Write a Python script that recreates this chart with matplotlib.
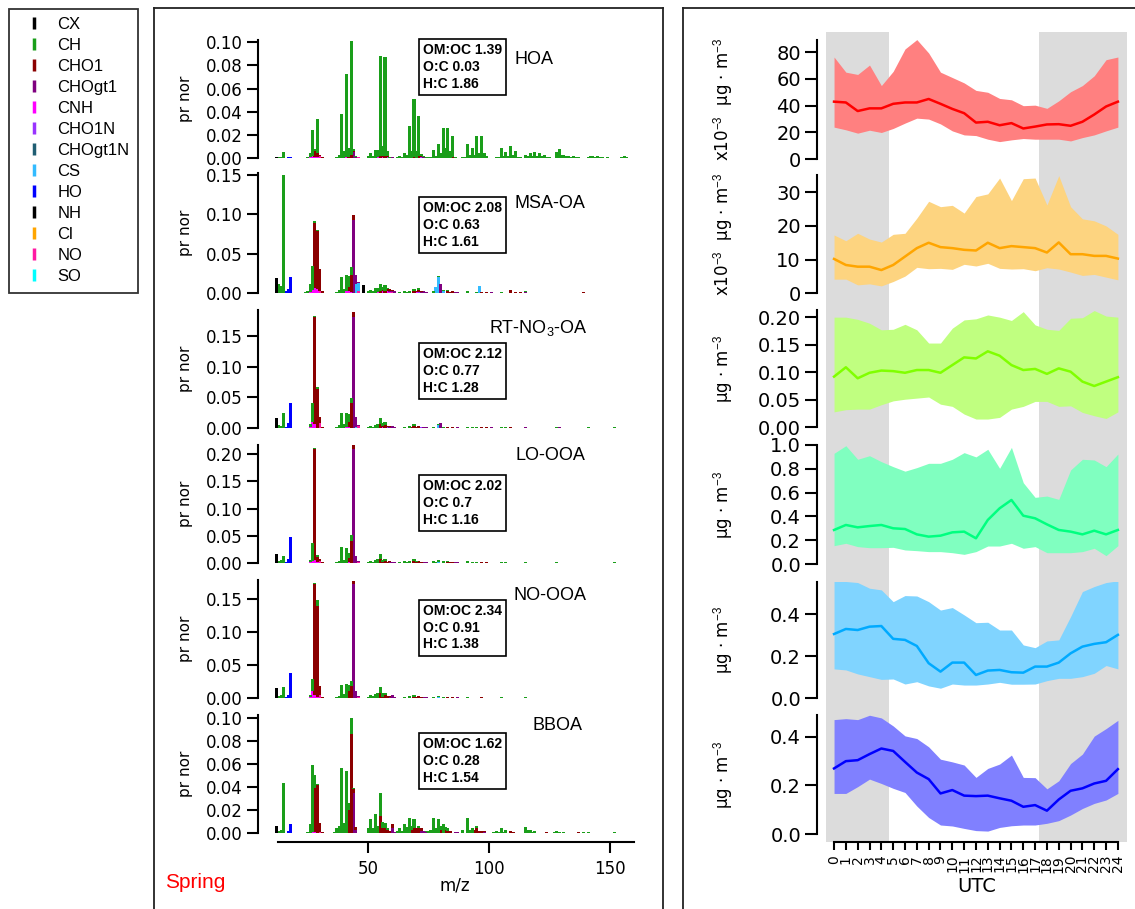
import numpy as np
import matplotlib.pyplot as plt
from matplotlib.lines import Line2D
from matplotlib.ticker import FormatStrFormatter

plt.rcParams['font.family'] = ['DejaVu Sans']
plt.rcParams['mathtext.fontset'] = 'custom'
plt.rcParams['mathtext.rm'] = 'Liberation Sans'
plt.rcParams['mathtext.it'] = 'Liberation Sans'

# ---------------- legend families ----------------
families = ['CX', 'CH', 'CHO1', 'CHOgt1', 'CNH', 'CHO1N', 'CHOgt1N', 'CS', 'HO', 'NH', 'Cl', 'NO', 'SO']
fam_colors = ['#000000', '#1a9e1a', '#8b0000', '#800080', '#ff00ff', '#9933ff', '#205e73',
              '#33bbff', '#0000ff', '#000000', '#ffa500', '#ff1aa3', '#00ffff']

# ---------------- mass spectra (m/z: value) ----------------
hoa_cx = {12: 0.001}
hoa_ch = {13: 0.001, 14: 0.001, 15: 0.005, 25: 0.001, 26: 0.003, 27: 0.022, 28: 0.002, 29: 0.030,
          37: 0.001, 38: 0.003, 39: 0.038, 40: 0.006, 41: 0.072, 42: 0.008, 43: 0.098, 44: 0.002,
          45: 0.001, 50: 0.002, 51: 0.004, 52: 0.002, 53: 0.007, 54: 0.006, 55: 0.086, 56: 0.008,
          57: 0.085, 58: 0.004, 59: 0.001, 62: 0.001, 63: 0.002, 64: 0.001, 65: 0.004, 66: 0.003,
          67: 0.028, 68: 0.006, 69: 0.050, 70: 0.006, 71: 0.034, 72: 0.002, 73: 0.001, 74: 0.001,
          75: 0.001, 76: 0.001, 77: 0.007, 78: 0.002, 79: 0.012, 80: 0.004, 81: 0.026, 82: 0.009,
          83: 0.026, 84: 0.006, 85: 0.018, 86: 0.001, 89: 0.001, 90: 0.001, 91: 0.012, 92: 0.003,
          93: 0.009, 94: 0.003, 95: 0.019, 96: 0.004, 97: 0.019, 98: 0.004, 99: 0.002, 103: 0.001,
          104: 0.001, 105: 0.009, 106: 0.002, 107: 0.005, 108: 0.002, 109: 0.010, 110: 0.003,
          111: 0.006, 112: 0.001, 113: 0.001, 115: 0.003, 116: 0.002, 117: 0.004, 118: 0.002,
          119: 0.005, 120: 0.002, 121: 0.004, 122: 0.002, 123: 0.003, 124: 0.001, 125: 0.001,
          128: 0.005, 129: 0.008, 130: 0.003, 131: 0.003, 132: 0.002, 133: 0.002, 134: 0.001,
          135: 0.002, 136: 0.001, 137: 0.001, 141: 0.001, 142: 0.002, 143: 0.002, 144: 0.001,
          145: 0.002, 146: 0.001, 147: 0.001, 149: 0.001, 155: 0.001, 156: 0.002, 157: 0.001}
hoa_cho1 = {28: 0.005, 29: 0.003, 30: 0.001, 31: 0.001, 42: 0.001, 43: 0.003, 44: 0.001, 55: 0.002,
            56: 0.001, 57: 0.002, 58: 0.001, 69: 0.001, 71: 0.002, 72: 0.001, 85: 0.001}
hoa_chogt1 = {44: 0.005, 45: 0.001, 60: 0.001, 73: 0.001}
hoa_cnh = {26: 0.001, 27: 0.002, 28: 0.001, 29: 0.001, 41: 0.001, 54: 0.001, 56: 0.001}
hoa_cho1n = {58: 0.001, 72: 0.0005}
hoa_ho = {17: 0.0005, 18: 0.001}
hoa_no = {30: 0.002, 46: 0.0005}

msa_cx = {12: 0.019, 48: 0.010}
msa_ch = {13: 0.011, 14: 0.009, 15: 0.150, 24: 0.001, 25: 0.002, 26: 0.010, 27: 0.030, 28: 0.002,
          29: 0.002, 37: 0.001, 38: 0.004, 39: 0.020, 40: 0.005, 41: 0.021, 42: 0.014, 43: 0.010,
          50: 0.002, 51: 0.004, 52: 0.002, 53: 0.006, 54: 0.005, 55: 0.008, 56: 0.004, 57: 0.007,
          58: 0.001, 63: 0.001, 65: 0.002, 66: 0.001, 67: 0.003, 69: 0.003, 71: 0.002, 77: 0.002,
          79: 0.001, 81: 0.002, 83: 0.002, 91: 0.002, 95: 0.001, 105: 0.001, 115: 0.001}
msa_cho1 = {28: 0.083, 29: 0.073, 30: 0.027, 31: 0.002, 42: 0.005, 43: 0.022, 44: 0.006, 55: 0.003,
            56: 0.002, 57: 0.003, 58: 0.002, 59: 0.002, 60: 0.001, 69: 0.002, 70: 0.002, 71: 0.003,
            72: 0.002, 73: 0.001, 83: 0.002, 84: 0.001, 85: 0.002, 97: 0.001, 99: 0.001, 109: 0.004,
            111: 0.001, 113: 0.001, 139: 0.001}
msa_chogt1 = {44: 0.093, 45: 0.011, 46: 0.001, 58: 0.001, 59: 0.002, 60: 0.002, 61: 0.002,
              72: 0.001, 73: 0.002, 74: 0.001, 80: 0.012, 86: 0.001, 87: 0.001, 101: 0.001, 115: 0.001}
msa_cnh = {26: 0.001, 27: 0.004, 28: 0.006, 29: 0.005, 41: 0.002, 42: 0.002, 43: 0.001, 54: 0.001,
           56: 0.002, 58: 0.002, 59: 0.001, 70: 0.001}
msa_cho1n = {71: 0.001}
msa_cs = {45: 0.012, 46: 0.010, 78: 0.008, 79: 0.020, 81: 0.002, 96: 0.009}
msa_ho = {16: 0.002, 17: 0.005, 18: 0.020}
msa_no = {30: 0.003, 46: 0.003, 60: 0.001}

rt_cx = {12: 0.017}
rt_ch = {13: 0.005, 14: 0.003, 15: 0.024, 26: 0.005, 27: 0.030, 28: 0.003, 29: 0.003, 37: 0.002,
         38: 0.005, 39: 0.025, 40: 0.006, 41: 0.024, 42: 0.012, 43: 0.009, 50: 0.002, 51: 0.004,
         52: 0.002, 53: 0.005, 54: 0.006, 55: 0.009, 56: 0.004, 57: 0.005, 65: 0.002, 67: 0.003,
         69: 0.003, 77: 0.002, 79: 0.002, 81: 0.002, 91: 0.002, 93: 0.001, 95: 0.001, 105: 0.001,
         107: 0.001, 115: 0.001, 128: 0.001, 141: 0.001, 152: 0.001}
rt_cho1 = {28: 0.174, 29: 0.064, 30: 0.010, 31: 0.002, 42: 0.008, 43: 0.040, 44: 0.009, 55: 0.007,
           56: 0.003, 57: 0.005, 58: 0.002, 59: 0.002, 68: 0.001, 69: 0.003, 70: 0.002, 71: 0.003,
           72: 0.001, 83: 0.002, 85: 0.002, 97: 0.001, 99: 0.001, 109: 0.001}
rt_chogt1 = {44: 0.180, 45: 0.016, 46: 0.001, 58: 0.001, 59: 0.002, 60: 0.003, 61: 0.001, 73: 0.002,
             74: 0.001, 80: 0.008, 87: 0.001, 101: 0.001, 115: 0.001, 129: 0.001}
rt_cnh = {26: 0.001, 27: 0.010, 28: 0.006, 41: 0.001, 42: 0.002, 56: 0.001}
rt_cho1n = {58: 0.001, 72: 0.001}
rt_cs = {45: 0.002, 79: 0.005}
rt_ho = {16: 0.002, 17: 0.008, 18: 0.040}
rt_no = {30: 0.008, 46: 0.004}

lo_cx = {12: 0.016}
lo_ch = {13: 0.003, 14: 0.005, 15: 0.013, 26: 0.005, 27: 0.034, 28: 0.003, 29: 0.003, 37: 0.002,
         38: 0.004, 39: 0.030, 40: 0.006, 41: 0.027, 42: 0.010, 43: 0.012, 50: 0.002, 51: 0.004,
         52: 0.002, 53: 0.006, 54: 0.007, 55: 0.010, 56: 0.004, 57: 0.004, 63: 0.001, 65: 0.003,
         66: 0.002, 67: 0.004, 69: 0.004, 70: 0.002, 77: 0.004, 78: 0.002, 79: 0.004, 81: 0.003,
         83: 0.002, 91: 0.003, 93: 0.001, 95: 0.002, 105: 0.002, 107: 0.001, 115: 0.002, 128: 0.001,
         152: 0.001}
lo_cho1 = {28: 0.203, 29: 0.009, 30: 0.005, 31: 0.001, 42: 0.008, 43: 0.040, 44: 0.007, 55: 0.007,
           56: 0.002, 57: 0.004, 58: 0.002, 59: 0.002, 69: 0.003, 70: 0.002, 71: 0.003, 72: 0.001,
           83: 0.002, 84: 0.001, 85: 0.002, 97: 0.001, 99: 0.001}
lo_chogt1 = {44: 0.210, 45: 0.012, 46: 0.001, 59: 0.001, 60: 0.002, 61: 0.001, 73: 0.001, 74: 0.001,
             86: 0.001, 87: 0.001}
lo_cnh = {26: 0.001, 27: 0.003, 28: 0.006, 29: 0.002, 42: 0.001}
lo_cs = {79: 0.002}
lo_ho = {16: 0.002, 17: 0.008, 18: 0.047}
lo_no = {30: 0.003, 46: 0.002}

no_cx = {12: 0.015}
no_ch = {13: 0.003, 14: 0.004, 15: 0.017, 26: 0.004, 27: 0.018, 28: 0.002, 29: 0.009, 37: 0.002,
         38: 0.003, 39: 0.020, 40: 0.006, 41: 0.021, 42: 0.010, 43: 0.008, 50: 0.002, 51: 0.004,
         52: 0.003, 53: 0.006, 54: 0.007, 55: 0.010, 56: 0.005, 57: 0.003, 65: 0.002, 67: 0.003,
         69: 0.003, 77: 0.002, 79: 0.002, 81: 0.002, 91: 0.002, 105: 0.001, 115: 0.001}
no_cho1 = {28: 0.168, 29: 0.138, 30: 0.014, 31: 0.001, 42: 0.010, 43: 0.018, 44: 0.005, 55: 0.007,
           56: 0.002, 57: 0.004, 58: 0.003, 59: 0.002, 69: 0.002, 70: 0.002, 71: 0.003, 72: 0.001,
           83: 0.001, 85: 0.001, 97: 0.001}
no_chogt1 = {44: 0.172, 45: 0.010, 46: 0.001, 59: 0.001, 60: 0.005, 61: 0.001, 73: 0.002, 74: 0.001,
             87: 0.001}
no_cnh = {26: 0.001, 27: 0.011, 28: 0.004, 29: 0.001}
no_cs = {79: 0.001}
no_ho = {16: 0.001, 17: 0.005, 18: 0.038}
no_no = {30: 0.004, 46: 0.002}

bb_cx = {12: 0.006}
bb_ch = {13: 0.002, 14: 0.003, 15: 0.044, 25: 0.001, 26: 0.008, 27: 0.058, 28: 0.012, 29: 0.001,
         36: 0.001, 37: 0.004, 38: 0.006, 39: 0.057, 40: 0.009, 41: 0.054, 42: 0.006, 43: 0.014,
         44: 0.001, 50: 0.004, 51: 0.012, 52: 0.004, 53: 0.017, 54: 0.006, 55: 0.020, 56: 0.006,
         57: 0.005, 58: 0.001, 62: 0.002, 63: 0.004, 64: 0.002, 65: 0.008, 66: 0.005, 67: 0.013,
         68: 0.003, 69: 0.008, 71: 0.002, 74: 0.001, 75: 0.002, 76: 0.003, 77: 0.013, 78: 0.004,
         79: 0.012, 80: 0.003, 81: 0.008, 82: 0.002, 83: 0.002, 89: 0.003, 91: 0.013, 92: 0.003,
         93: 0.004, 95: 0.002, 102: 0.001, 103: 0.002, 104: 0.001, 105: 0.004, 106: 0.001,
         107: 0.003, 115: 0.005, 116: 0.003, 117: 0.003, 118: 0.001, 119: 0.002, 127: 0.001,
         128: 0.002, 129: 0.001, 131: 0.001, 139: 0.001, 141: 0.001, 152: 0.001}
bb_cho1 = {28: 0.038, 29: 0.042, 30: 0.008, 31: 0.001, 42: 0.020, 43: 0.086, 44: 0.003, 45: 0.002,
           55: 0.015, 56: 0.004, 57: 0.004, 58: 0.003, 59: 0.002, 60: 0.004, 68: 0.003, 69: 0.004,
           70: 0.004, 71: 0.004, 72: 0.002, 80: 0.003, 82: 0.003, 83: 0.002, 84: 0.002, 94: 0.003,
           95: 0.004, 96: 0.002, 97: 0.002, 98: 0.001, 109: 0.002, 110: 0.001, 124: 0.001, 137: 0.001}
bb_chogt1 = {44: 0.035, 45: 0.003, 60: 0.004, 61: 0.001, 72: 0.002, 73: 0.002, 74: 0.001, 86: 0.001,
             87: 0.001, 98: 0.001}
bb_cnh = {27: 0.001, 28: 0.001}
bb_ho = {17: 0.002, 18: 0.008}
bb_no = {30: 0.001}

factor_names = ['HOA', 'MSA-OA', 'RT-NO$_3$-OA', 'LO-OOA', 'NO-OOA', 'BBOA']
ratio_text = ['OM:OC 1.39\nO:C 0.03\nH:C 1.86',
              'OM:OC 2.08\nO:C 0.63\nH:C 1.61',
              'OM:OC 2.12\nO:C 0.77\nH:C 1.28',
              'OM:OC 2.02\nO:C 0.7\nH:C 1.16',
              'OM:OC 2.34\nO:C 0.91\nH:C 1.38',
              'OM:OC 1.62\nO:C 0.28\nH:C 1.54']
spec_ticks = [[0, 0.02, 0.04, 0.06, 0.08, 0.10], [0, 0.05, 0.10, 0.15], [0, 0.05, 0.10, 0.15],
              [0, 0.05, 0.10, 0.15, 0.20], [0, 0.05, 0.10, 0.15], [0, 0.02, 0.04, 0.06, 0.08, 0.10]]
spec_top = [0.102, 0.152, 0.192, 0.217, 0.178, 0.103]

spectra = [
    {'CX': hoa_cx, 'CH': hoa_ch, 'CHO1': hoa_cho1, 'CHOgt1': hoa_chogt1, 'CNH': hoa_cnh,
     'CHO1N': hoa_cho1n, 'HO': hoa_ho, 'NO': hoa_no},
    {'CX': msa_cx, 'CH': msa_ch, 'CHO1': msa_cho1, 'CHOgt1': msa_chogt1, 'CNH': msa_cnh,
     'CHO1N': msa_cho1n, 'CS': msa_cs, 'HO': msa_ho, 'NO': msa_no},
    {'CX': rt_cx, 'CH': rt_ch, 'CHO1': rt_cho1, 'CHOgt1': rt_chogt1, 'CNH': rt_cnh,
     'CHO1N': rt_cho1n, 'CS': rt_cs, 'HO': rt_ho, 'NO': rt_no},
    {'CX': lo_cx, 'CH': lo_ch, 'CHO1': lo_cho1, 'CHOgt1': lo_chogt1, 'CNH': lo_cnh,
     'CS': lo_cs, 'HO': lo_ho, 'NO': lo_no},
    {'CX': no_cx, 'CH': no_ch, 'CHO1': no_cho1, 'CHOgt1': no_chogt1, 'CNH': no_cnh,
     'CS': no_cs, 'HO': no_ho, 'NO': no_no},
    {'CX': bb_cx, 'CH': bb_ch, 'CHO1': bb_cho1, 'CHOgt1': bb_chogt1, 'CNH': bb_cnh,
     'HO': bb_ho, 'NO': bb_no},
]

# ---------------- diurnal cycles (UTC hour 0..24) ----------------
hours = list(range(25))
hoa_med = [43, 42.4, 36, 38, 38, 41.4, 42.4, 42.4, 45, 41.4, 37.6, 34.4, 27.4, 28, 25.4, 27, 23, 24.4,
           26, 26.2, 25, 28, 33.4, 39.4, 43]
hoa_hi = [76.3, 65, 63.3, 70.3, 55, 65.6, 82.3, 89.3, 79.3, 65, 61, 57, 51.4, 50, 45.4, 44.4, 40, 40.4,
          38, 43.6, 50.4, 55, 62.3, 74.3, 76.3]
hoa_lo = [24, 22, 19.5, 21.7, 20, 23, 27, 30.7, 30, 26.4, 21.2, 18.2, 17.7, 15, 13.2, 14.5, 15.5, 15,
          15, 15, 13.7, 16.2, 18.2, 21.2, 24]
msa_med = [10.2, 8.4, 7.9, 7.9, 6.9, 8.4, 10.9, 13.4, 15, 13.7, 13.4, 12.9, 12.7, 15, 13.4, 14, 13.7,
           13.4, 12.1, 15.1, 11.6, 11.6, 11.1, 11.1, 10.3]
msa_hi = [17.3, 15.6, 17.8, 16.1, 15.2, 17.5, 17.8, 22.3, 27.3, 25.7, 26.1, 23.8, 28.7, 29.5, 34.2, 27.5,
          34, 34.2, 26.2, 34.9, 25.7, 22.1, 21.5, 20, 17.5]
msa_lo = [4.2, 4.2, 2.5, 2.8, 2.2, 3.5, 5.1, 7.7, 7.3, 7.4, 7.1, 8.6, 8.1, 8.9, 7.4, 7.2, 7.3, 6.7, 7.6,
          7.2, 6.3, 5.3, 5.6, 4.8, 4]
rt_med = [0.092, 0.109, 0.089, 0.099, 0.103, 0.102, 0.099, 0.104, 0.104, 0.099, 0.113, 0.127, 0.125,
          0.138, 0.130, 0.113, 0.104, 0.106, 0.097, 0.107, 0.101, 0.083, 0.075, 0.083, 0.091]
rt_hi = [0.200, 0.200, 0.196, 0.189, 0.177, 0.178, 0.187, 0.177, 0.153, 0.153, 0.180, 0.195, 0.197,
         0.204, 0.200, 0.194, 0.210, 0.186, 0.178, 0.176, 0.198, 0.199, 0.212, 0.202, 0.200]
rt_lo = [0.028, 0.032, 0.033, 0.033, 0.041, 0.048, 0.051, 0.053, 0.055, 0.042, 0.038, 0.024, 0.015,
         0.015, 0.018, 0.033, 0.038, 0.047, 0.047, 0.038, 0.039, 0.027, 0.021, 0.016, 0.028]
lo_med = [0.286, 0.328, 0.308, 0.319, 0.328, 0.300, 0.294, 0.249, 0.230, 0.238, 0.266, 0.272, 0.216,
          0.370, 0.468, 0.538, 0.406, 0.384, 0.333, 0.286, 0.272, 0.249, 0.280, 0.249, 0.286]
lo_hi = [0.93, 0.994, 0.88, 0.91, 0.86, 0.818, 0.78, 0.81, 0.846, 0.846, 0.88, 0.936, 0.90, 0.964,
         0.804, 0.98, 0.683, 0.56, 0.571, 0.543, 0.79, 0.88, 0.874, 0.818, 0.924]
lo_lo = [0.154, 0.174, 0.146, 0.137, 0.137, 0.14, 0.118, 0.112, 0.104, 0.104, 0.095, 0.081, 0.104,
         0.151, 0.151, 0.174, 0.132, 0.146, 0.095, 0.095, 0.095, 0.104, 0.132, 0.07, 0.154]
noo_med = [0.306, 0.33, 0.325, 0.341, 0.344, 0.283, 0.278, 0.249, 0.167, 0.127, 0.17, 0.17, 0.111,
           0.132, 0.135, 0.124, 0.122, 0.151, 0.151, 0.17, 0.214, 0.246, 0.259, 0.267, 0.302]
noo_hi = [0.559, 0.556, 0.551, 0.524, 0.516, 0.46, 0.489, 0.487, 0.46, 0.42, 0.432, 0.397, 0.36, 0.362,
          0.325, 0.325, 0.254, 0.241, 0.273, 0.278, 0.389, 0.508, 0.532, 0.551, 0.559]
noo_lo = [0.14, 0.135, 0.116, 0.103, 0.09, 0.092, 0.068, 0.079, 0.059, 0.048, 0.068, 0.063, 0.063,
          0.068, 0.076, 0.067, 0.067, 0.068, 0.084, 0.095, 0.095, 0.103, 0.119, 0.156, 0.14]
bb_med = [0.27, 0.30, 0.304, 0.329, 0.352, 0.342, 0.297, 0.253, 0.226, 0.167, 0.181, 0.158, 0.156,
          0.158, 0.147, 0.137, 0.112, 0.119, 0.096, 0.142, 0.178, 0.188, 0.208, 0.219, 0.267]
bb_hi = [0.471, 0.475, 0.471, 0.489, 0.478, 0.445, 0.404, 0.393, 0.359, 0.308, 0.297, 0.284, 0.233,
         0.27, 0.288, 0.325, 0.233, 0.232, 0.186, 0.219, 0.29, 0.329, 0.403, 0.434, 0.468]
bb_lo = [0.167, 0.167, 0.195, 0.226, 0.208, 0.188, 0.171, 0.115, 0.068, 0.037, 0.033, 0.023, 0.014,
         0.012, 0.027, 0.034, 0.037, 0.037, 0.044, 0.055, 0.078, 0.105, 0.126, 0.14, 0.167]

diurnal = [(hoa_med, hoa_lo, hoa_hi), (msa_med, msa_lo, msa_hi), (rt_med, rt_lo, rt_hi),
           (lo_med, lo_lo, lo_hi), (noo_med, noo_lo, noo_hi), (bb_med, bb_lo, bb_hi)]
line_colors = ['#ff0000', '#ffa500', '#80ff00', '#00ff80', '#00aaff', '#0000ff']
fill_colors = ['#ff8080', '#fdd480', '#c0ff80', '#80ffc0', '#80d4ff', '#8080ff']
diu_ticks = [[0, 20, 40, 60, 80], [0, 10, 20, 30], [0, 0.05, 0.10, 0.15, 0.20],
             [0, 0.2, 0.4, 0.6, 0.8, 1.0], [0, 0.2, 0.4], [0, 0.2, 0.4]]
diu_fmt = ['%d', '%d', '%.2f', '%.1f', '%.1f', '%.1f']
diu_top = [89, 35.1, 0.213, 1.0, 0.555, 0.49]
diu_units = ['x10$^{-3}$  µg · m$^{-3}$', 'x10$^{-3}$  µg · m$^{-3}$', 'µg · m$^{-3}$',
             'µg · m$^{-3}$', 'µg · m$^{-3}$', 'µg · m$^{-3}$']
night_spans = [(-0.68, 4.65), (17.33, 24.77)]

# ---------------- layout (pixels) ----------------
W, H = 1135, 909
fig = plt.figure(figsize=(W / 100, H / 100), dpi=100)


def px_axes(x0, y0, x1, y1):
    return fig.add_axes([x0 / W, 1 - y1 / H, (x1 - x0) / W, (y1 - y0) / H])


def fx(x):
    return x / W


def fy(y):
    return 1 - y / H


spec_rows = [(40, 158), (173, 293), (310, 428), (445, 563), (580, 698), (715, 833)]
box_pos = [(423, 43), (423, 201), (423, 347), (423, 479), (423, 604), (423, 737)]
name_pos = [(534, 60), (550, 203), (538, 328), (550, 456), (550, 595), (558, 725)]
diu_rows = [(40, 159.3), (175, 293.3), (310, 427.3), (445, 564), (581.7, 698.3), (715, 834)]

# panel frames
for seg in [((154, 8), (663, 8)), ((154, 8), (154, 912)), ((663, 8), (663, 912)),
            ((683, 8), (1140, 8)), ((683, 8), (683, 912))]:
    (xa, ya), (xb, yb) = seg
    fig.add_artist(Line2D([fx(xa), fx(xb)], [fy(ya), fy(yb)], color='#222222', lw=1.3))

# ---------------- mass spectra ----------------
mz = np.arange(12, 161)
stack_order = families[::-1]
color_of = dict(zip(families, fam_colors))
for i, (top, bot) in enumerate(spec_rows):
    ax = px_axes(275, top, 634, bot)
    bottom = np.zeros(len(mz))
    for fam in stack_order:
        d = spectra[i].get(fam)
        if not d:
            continue
        vals = np.array([d.get(m, 0.0) for m in mz])
        ax.bar(mz, vals, width=1.25, bottom=bottom, color=color_of[fam], linewidth=0)
        bottom += vals
    ax.set_xlim(11.5, 160)
    ax.set_ylim(0, spec_top[i])
    ax.set_yticks(spec_ticks[i])
    ax.yaxis.set_major_formatter(FormatStrFormatter('%.2f'))
    ax.patch.set_visible(False)
    for s in ['top', 'right']:
        ax.spines[s].set_visible(False)
    ax.spines['left'].set_position(('outward', 12))
    ax.spines['left'].set_linewidth(1.5)
    ax.tick_params(axis='y', length=8, width=1.5, labelsize=12, pad=3)
    ax.set_ylabel('pr nor', fontsize=11)
    ax.yaxis.set_label_coords((193 - 275) / 359, 0.5)
    if i == 5:
        ax.spines['bottom'].set_position(('outward', 6.5))
        ax.spines['bottom'].set_linewidth(1.5)
        ax.spines['bottom'].set_bounds(12.7, 160)
        ax.set_xticks([50, 100, 150])
        ax.tick_params(axis='x', length=8, width=1.5, labelsize=12, pad=5)
        ax.set_xlabel('m/z', fontsize=12, labelpad=-1)
    else:
        ax.spines['bottom'].set_visible(False)
        ax.set_xticks([])
    fig.text(fx(box_pos[i][0]), fy(box_pos[i][1]), ratio_text[i], fontsize=10, fontweight='bold',
             family='Liberation Sans', va='top', ha='left', linespacing=1.25,
             bbox=dict(boxstyle='square,pad=0.3', fc='white', ec='black', lw=1.2))
    fig.text(fx(name_pos[i][0]), fy(name_pos[i][1]), factor_names[i], fontsize=13,
             family='Liberation Sans', ha='center', va='center')

fig.text(fx(165), fy(882), 'Spring', color='red', fontsize=15, family='Liberation Sans',
         va='center', ha='left')

# ---------------- diurnal panels ----------------
bg = px_axes(826, 32, 1127, 842)
bg.set_xlim(-0.68, 24.77)
bg.set_ylim(0, 1)
for a, b in night_spans:
    bg.axvspan(a, b, color='#dcdcdc', lw=0)
bg.axis('off')

for i, (top, bot) in enumerate(diu_rows):
    ax = px_axes(826, top, 1127, bot)
    med, lo, hi = diurnal[i]
    ax.fill_between(hours, lo, hi, color=fill_colors[i], lw=0)
    ax.plot(hours, med, color=line_colors[i], lw=1.8)
    ax.set_xlim(-0.68, 24.77)
    ax.set_ylim(0, diu_top[i])
    ax.set_yticks(diu_ticks[i])
    ax.yaxis.set_major_formatter(FormatStrFormatter(diu_fmt[i]))
    ax.patch.set_visible(False)
    for s in ['top', 'right']:
        ax.spines[s].set_visible(False)
    ax.spines['left'].set_position(('outward', 6.5))
    ax.spines['left'].set_linewidth(1.5)
    ax.tick_params(axis='y', length=8.5, width=1.5, labelsize=14, pad=3)
    ax.set_ylabel(diu_units[i], fontsize=12)
    ax.yaxis.set_label_coords((735 - 826) / 301, 0.5)
    if i == 5:
        ax.spines['bottom'].set_position(('outward', 6))
        ax.spines['bottom'].set_linewidth(1.5)
        ax.spines['bottom'].set_bounds(0, 24)
        ax.set_xticks(hours)
        ax.set_xticklabels([str(h) for h in hours], rotation=90)
        ax.tick_params(axis='x', length=6, width=1.5, labelsize=10, pad=3)
        ax.set_xlabel('UTC', fontsize=14, labelpad=3)
    else:
        ax.spines['bottom'].set_visible(False)
        ax.set_xticks([])

# ---------------- legend ----------------
handles = [Line2D([], [], ls='none', marker='|', markersize=8, markeredgewidth=2.5, color=c)
           for c in fam_colors]
leg = fig.legend(handles, families, loc='upper left', bbox_to_anchor=(fx(9), fy(9)),
                 borderaxespad=0, frameon=True, fancybox=False, edgecolor='black',
                 prop={'family': 'Liberation Sans', 'size': 12}, borderpad=0.5,
                 handlelength=2.0, handletextpad=0.4, labelspacing=0.36)
leg.get_frame().set_linewidth(1.3)

fig.savefig('out.png', dpi=100)
